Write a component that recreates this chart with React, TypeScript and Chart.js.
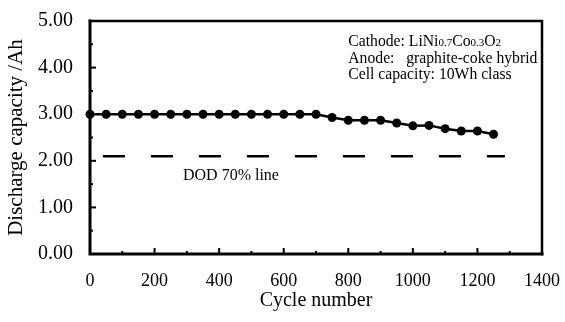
import React, { useEffect, useRef } from "react";
import { Chart, registerables } from "chart.js";

Chart.register(...registerables);

// ---- data ----
const cycles = [0, 50, 100, 150, 200, 250, 300, 350, 400, 450, 500, 550, 600, 650, 700, 750, 800, 850, 900, 950, 1000, 1050, 1100, 1150, 1200, 1250];
const capacity = [3.0, 3.0, 3.0, 3.0, 3.0, 3.0, 3.0, 3.0, 3.0, 3.0, 3.0, 3.0, 3.0, 3.0, 3.0, 2.93, 2.87, 2.87, 2.87, 2.81, 2.75, 2.76, 2.69, 2.64, 2.64, 2.57];
const dodCycles = [40, 1285];
const dodCapacity = [2.1, 2.1];
const xMin = 0;
const xMax = 1400;
const xStep = 200;
const yMin = 0;
const yMax = 5;
const yStep = 1;
const xTitle = "Cycle number";
const yTitle = "Discharge capacity /Ah";
const dodLabel = "DOD 70% line";
const anodeText = "Anode:   graphite-coke hybrid";
const cellText = "Cell capacity: 10Wh class";

const SERIF = "'Liberation Serif', 'Times New Roman', serif";

const framePlugin = {
  id: "frameAndTicks",
  beforeDatasetsDraw(chart: any) {
    const { ctx, chartArea } = chart;
    const xs = chart.scales.x;
    const ys = chart.scales.y;
    const { left, right, top, bottom } = chartArea;
    ctx.save();
    ctx.strokeStyle = "#000";
    ctx.lineCap = "square";
    ctx.lineWidth = 3;
    ctx.beginPath();
    ctx.moveTo(left, top);
    ctx.lineTo(left, bottom);
    ctx.lineTo(right, bottom);
    ctx.stroke();
    ctx.lineWidth = 2.5;
    ctx.beginPath();
    ctx.moveTo(left, top);
    ctx.lineTo(right, top);
    ctx.lineTo(right, bottom);
    ctx.stroke();
    ctx.lineWidth = 2;
    ctx.lineCap = "butt";
    for (let v = xMin + xStep / 2; v < xMax; v += xStep / 2) {
      const px = xs.getPixelForValue(v);
      const major = Math.abs(v / xStep - Math.round(v / xStep)) < 1e-6;
      const len = major ? 6 : 3;
      ctx.beginPath();
      ctx.moveTo(px, bottom);
      ctx.lineTo(px, bottom - len);
      ctx.stroke();
    }
    for (let v = yMin + yStep / 2; v < yMax; v += yStep / 2) {
      const py = ys.getPixelForValue(v);
      const major = Math.abs(v / yStep - Math.round(v / yStep)) < 1e-6;
      const len = major ? 6 : 3;
      ctx.beginPath();
      ctx.moveTo(left, py);
      ctx.lineTo(left + len, py);
      ctx.stroke();
    }
    ctx.restore();
  },
  afterDatasetsDraw(chart: any) {
    const { ctx } = chart;
    const xs = chart.scales.x;
    const ys = chart.scales.y;
    ctx.save();
    ctx.fillStyle = "#000";
    ctx.textBaseline = "alphabetic";
    ctx.textAlign = "left";
    ctx.font = `16px ${SERIF}`;
    ctx.fillText(dodLabel, xs.getPixelForValue(288), ys.getPixelForValue(1.59));

    const ax = xs.getPixelForValue(800);
    const b1 = ys.getPixelForValue(4.46);
    const lh = 16.5;
    const big = 15.7;
    const small = 11;
    const segs: [string, number][] = [
      ["Cathode: LiNi", big],
      ["0.7", small],
      ["Co", big],
      ["0.3", small],
      ["O", big],
      ["2", small],
    ];
    let cx = ax;
    for (const [t, s] of segs) {
      ctx.font = `${s}px ${SERIF}`;
      ctx.fillText(t, cx, b1);
      cx += ctx.measureText(t).width;
    }
    ctx.font = `${big}px ${SERIF}`;
    ctx.fillText(anodeText, ax, b1 + lh);
    ctx.fillText(cellText, ax, b1 + 2 * lh);
    ctx.restore();
  },
};

export default function App() {
  const ref = useRef<HTMLCanvasElement | null>(null);
  useEffect(() => {
    if (!ref.current) return;
    const chart = new Chart(ref.current, {
      type: "line",
      data: {
        datasets: [
          {
            label: "capacity",
            data: cycles.map((c, i) => ({ x: c, y: capacity[i] })),
            borderColor: "#000",
            backgroundColor: "#000",
            borderWidth: 2.5,
            pointRadius: 4.5,
            pointBackgroundColor: "#000",
            pointBorderColor: "#000",
            pointBorderWidth: 0,
            clip: false,
            tension: 0,
          },
          {
            label: "DOD",
            data: dodCycles.map((c, i) => ({ x: c, y: dodCapacity[i] })),
            borderColor: "#000",
            borderWidth: 2.5,
            borderDash: [22, 26],
            pointRadius: 0,
            tension: 0,
          },
        ],
      },
      options: {
        animation: false,
        responsive: false,
        maintainAspectRatio: false,
        devicePixelRatio: 1,
        layout: { padding: { left: 0, right: 23, top: 21, bottom: 0 } },
        plugins: { legend: { display: false }, tooltip: { enabled: false } },
        scales: {
          x: {
            type: "linear",
            min: xMin,
            max: xMax,
            border: { display: false },
            grid: { display: false, drawTicks: false },
            ticks: {
              stepSize: xStep,
              color: "#000",
              font: { family: SERIF, size: 18 },
              padding: 16,
              maxRotation: 0,
              callback: (v: any) => String(v),
            },
            title: {
              display: true,
              text: xTitle,
              color: "#000",
              font: { family: SERIF, size: 20 },
              padding: { top: 0, bottom: 9 },
            },
            afterFit: (s: any) => {
              s.height = 68;
              s.paddingLeft = 0;
              s.paddingRight = 0;
            },
          },
          y: {
            type: "linear",
            min: yMin,
            max: yMax,
            border: { display: false },
            grid: { display: false, drawTicks: false },
            ticks: {
              stepSize: yStep,
              color: "#000",
              font: { family: SERIF, size: 20 },
              padding: 17,
              callback: (v: any) => Number(v).toFixed(2),
            },
            title: {
              display: true,
              text: yTitle,
              color: "#000",
              font: { family: SERIF, size: 21 },
              padding: { top: 4, bottom: 0 },
            },
            afterFit: (s: any) => {
              s.width = 90;
              s.paddingTop = 0;
              s.paddingBottom = 0;
            },
          },
        },
      },
      plugins: [framePlugin],
    } as any);
    return () => chart.destroy();
  }, []);
  return (
    <div style={{ position: "fixed", left: 0, top: 0, width: 565, height: 322, background: "#fff" }}>
      <canvas ref={ref} width={565} height={322} style={{ display: "block", width: 565, height: 322 }} />
    </div>
  );
}
